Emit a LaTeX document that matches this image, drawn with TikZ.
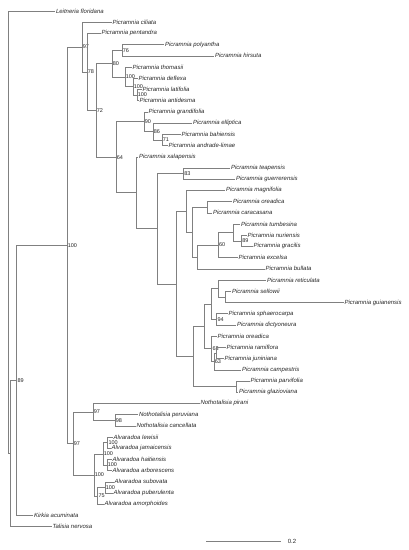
\documentclass[tikz,border=0pt]{standalone}
\usepackage{fontspec}
\setsansfont{Liberation Sans}
\usepackage{tikz}
\tikzset{
    branch/.style={draw=black!50, line width=0.45pt},
    taxon/.style={anchor=west, inner sep=0.8pt, text=black!85,
        font=\sffamily\itshape\fontsize{6}{7}\selectfont},
    support/.style={inner sep=0.6pt, text=black!85,
        font=\sffamily\fontsize{5.5}{6}\selectfont}}

\begin{document}
\begin{tikzpicture}[x=1pt, y=-11.21pt]
        \useasboundingbox (0,-0.981) rectangle (408,48.08);

                    \node[taxon] (leitneria) at (55,0) {Leitneria floridana};
                    \node[taxon] (ciliata) at (111.5,1) {Picramnia ciliata};
                    \node[taxon] (pentandra) at (100.5,2) {Picramnia pentandra};
                    \node[taxon] (polyantha) at (164,3) {Picramnia polyantha};
                    \node[taxon] (hirsuta) at (214,4) {Picramnia hirsuta};
                    \node[taxon] (thomasii) at (131.5,5) {Picramnia thomasii};
                    \node[taxon] (deflexa) at (137.5,6) {Picramnia deflexa};
                    \node[taxon] (latifolia) at (141.5,7) {Picramnia latifolia};
                    \node[taxon] (antidesma) at (138.5,8) {Picramnia antidesma};
                    \node[taxon] (grandifolia) at (147.5,9) {Picramnia grandifolia};
                    \node[taxon] (elliptica) at (192,10) {Picramnia elliptica};
                    \node[taxon] (bahiensis) at (180.5,11) {Picramnia bahiensis};
                    \node[taxon] (andrade) at (167.5,12) {Picramnia andrade-limae};
                    \node[taxon] (xalapensis) at (138,13) {Picramnia xalapensis};
                    \node[taxon] (teapensis) at (230,14) {Picramnia teapensis};
                    \node[taxon] (guerrerensis) at (235,15) {Picramnia guerrerensis};
                    \node[taxon] (magnifolia) at (225,16) {Picramnia magnifolia};
                    \node[taxon] (oreadica) at (232,17) {Picramnia oreadica};
                    \node[taxon] (caracasana) at (212,18) {Picramnia caracasana};
                    \node[taxon] (tumbesina) at (240,19) {Picramnia tumbesina};
                    \node[taxon] (nuriensis) at (246.5,20) {Picramnia nuriensis};
                    \node[taxon] (gracilis) at (252.5,21) {Picramnia gracilis};
                    \node[taxon] (excelsa) at (237.5,22) {Picramnia excelsa};
                    \node[taxon] (bullata) at (264.5,23) {Picramnia bullata};
                    \node[taxon] (reticulata) at (266,24) {Picramnia reticulata};
                    \node[taxon] (sellowii) at (231,25) {Picramnia sellowii};
                    \node[taxon] (guianensis) at (343.5,26) {Picramnia guianensis};
                    \node[taxon] (sphaerocarpa) at (227.5,27) {Picramnia sphaerocarpa};
                    \node[taxon] (dictyoneura) at (236,28) {Picramnia dictyoneura};
                    \node[taxon] (oreadicaB) at (216.5,29) {Picramnia oreadica};
                    \node[taxon] (ramiflora) at (225.5,30) {Picramnia ramiflora};
                    \node[taxon] (juniniana) at (223.5,31) {Picramnia juniniana};
                    \node[taxon] (campestris) at (241,32) {Picramnia campestris};
                    \node[taxon] (parvifolia) at (249.5,33) {Picramnia parvifolia};
                    \node[taxon] (glazioviana) at (238,34) {Picramnia glazioviana};
                    \node[taxon] (pirani) at (199.5,35) {Nothotalisia pirani};
                    \node[taxon] (peruviana) at (138,36) {Nothotalisia peruviana};
                    \node[taxon] (cancellata) at (135.5,37) {Nothotalisia cancellata};
                    \node[taxon] (lewisii) at (112.5,38) {Alvaradoa lewisii};
                    \node[taxon] (jamaicensis) at (110.5,39) {Alvaradoa jamaicensis};
                    \node[taxon] (haitiensis) at (111.5,40) {Alvaradoa haitiensis};
                    \node[taxon] (arborescens) at (111.5,41) {Alvaradoa arborescens};
                    \node[taxon] (subovata) at (113.5,42) {Alvaradoa subovata};
                    \node[taxon] (puberulenta) at (112.5,43) {Alvaradoa puberulenta};
                    \node[taxon] (amorphoides) at (103.5,44) {Alvaradoa amorphoides};
                    \node[taxon] (kirkia) at (33,45) {Kirkia acuminata};
                    \node[taxon] (talisia) at (51.5,46) {Talisia nervosa};

                    \coordinate (root) at (8.3,19.74);
                    \coordinate (nT) at (10.7,39.47);
                    \coordinate[label={[support]right:89}] (n89o) at (16.7,32.94);
                    \coordinate[label={[support]right:100}] (nC) at (67,20.889);
                    \coordinate[label={[support]right:97}] (n97) at (82,3.216);
                    \coordinate[label={[support]right:78}] (n78) at (87,5.43);
                    \coordinate[label={[support]right:72}] (n72) at (96,8.865);
                    \coordinate[label={[support]right:80}] (n80) at (112,4.6875);
                    \coordinate[label={[support]right:76}] (n76) at (122,3.5);
                    \coordinate[label={[support]right:100}] (nTho) at (125,5.875);
                    \coordinate[label={[support]right:100}] (nDef) at (133,6.75);
                    \coordinate[label={[support]right:100}] (nLat) at (137,7.5);
                    \coordinate[label={[support]right:64}] (n64) at (116,13.042);
                    \coordinate[label={[support]right:90}] (n90) at (144,9.875);
                    \coordinate[label={[support]right:86}] (n86) at (153,10.75);
                    \coordinate[label={[support]right:71}] (n71) at (162,11.5);
                    \coordinate (nXal) at (136,16.209);
                    \coordinate (nX) at (157,19.418);
                    \coordinate[label={[support]right:83}] (n83) at (183.5,14.5);
                    \coordinate (nY) at (176.7,24.336);
                    \coordinate (nZone) at (186.7,17.859);
                    \coordinate (nZtwo) at (192.5,19.71875);
                    \coordinate (nOre) at (207.3,17.5);
                    \coordinate (nBul) at (197.7,21.9375);
                    \coordinate[label={[support]right:60}] (n60) at (218.3,20.875);
                    \coordinate (nTum) at (233.3,19.75);
                    \coordinate[label={[support]right:89}] (n89) at (241.5,20.5);
                    \coordinate (nW) at (193.3,30.8125);
                    \coordinate (nV) at (204.5,28.125);
                    \coordinate (nRS) at (211,26.125);
                    \coordinate (nRet) at (218.3,24.75);
                    \coordinate (nSel) at (225,25.5);
                    \coordinate[label={[support]right:94}] (n94) at (216.7,27.5);
                    \coordinate[label={[support]right:63}] (n63a) at (211.7,30.125);
                    \coordinate[label={[support]right:63}] (n63b) at (214,31.25);
                    \coordinate (nRam) at (216.5,30.5);
                    \coordinate (nPar) at (236,33.5);
                    \coordinate[label={[support]right:97}] (nOut) at (73,38.5625);
                    \coordinate[label={[support]right:97}] (nNoth) at (93,35.75);
                    \coordinate[label={[support]right:98}] (n98) at (115,36.5);
                    \coordinate[label={[support]right:100}] (nAlv) at (94,41.375);
                    \coordinate[label={[support]right:100}] (nAtop) at (103,39.5);
                    \coordinate[label={[support]right:100}] (nLew) at (107.7,38.5);
                    \coordinate[label={[support]right:100}] (nHai) at (107,40.5);
                    \coordinate[label={[support]right:75}] (n75) at (97.7,43.25);
                    \coordinate[label={[support]right:100}] (nSub) at (105,42.5);

                    \draw[branch] (root) |- (leitneria) (root) |- (nT);
                    \draw[branch] (nT) |- (n89o) (nT) |- (talisia);
                    \draw[branch] (n89o) |- (nC) (n89o) |- (kirkia);
                    \draw[branch] (nC) |- (n97) (nC) |- (nOut);
                    \draw[branch] (n97) |- (ciliata) (n97) |- (n78);
                    \draw[branch] (n78) |- (pentandra) (n78) |- (n72);
                    \draw[branch] (n72) |- (n80) (n72) |- (n64);
                    \draw[branch] (n80) |- (n76) (n80) |- (nTho);
                    \draw[branch] (n76) |- (polyantha) (n76) |- (hirsuta);
                    \draw[branch] (nTho) |- (thomasii) (nTho) |- (nDef);
                    \draw[branch] (nDef) |- (deflexa) (nDef) |- (nLat);
                    \draw[branch] (nLat) |- (latifolia) (nLat) |- (antidesma);
                    \draw[branch] (n64) |- (n90) (n64) |- (nXal);
                    \draw[branch] (n90) |- (grandifolia) (n90) |- (n86);
                    \draw[branch] (n86) |- (elliptica) (n86) |- (n71);
                    \draw[branch] (n71) |- (bahiensis) (n71) |- (andrade);
                    \draw[branch] (nXal) |- (xalapensis) (nXal) |- (nX);
                    \draw[branch] (nX) |- (n83) (nX) |- (nY);
                    \draw[branch] (n83) |- (teapensis) (n83) |- (guerrerensis);
                    \draw[branch] (nY) |- (nZone) (nY) |- (nW);
                    \draw[branch] (nZone) |- (magnifolia) (nZone) |- (nZtwo);
                    \draw[branch] (nZtwo) |- (nOre) (nZtwo) |- (nBul);
                    \draw[branch] (nOre) |- (oreadica) (nOre) |- (caracasana);
                    \draw[branch] (nBul) |- (n60) (nBul) |- (bullata);
                    \draw[branch] (n60) |- (nTum) (n60) |- (excelsa);
                    \draw[branch] (nTum) |- (tumbesina) (nTum) |- (n89);
                    \draw[branch] (n89) |- (nuriensis) (n89) |- (gracilis);
                    \draw[branch] (nW) |- (nV) (nW) |- (nPar);
                    \draw[branch] (nV) |- (nRS) (nV) |- (n63a);
                    \draw[branch] (nRS) |- (nRet) (nRS) |- (n94);
                    \draw[branch] (nRet) |- (reticulata) (nRet) |- (nSel);
                    \draw[branch] (nSel) |- (sellowii) (nSel) |- (guianensis);
                    \draw[branch] (n94) |- (sphaerocarpa) (n94) |- (dictyoneura);
                    \draw[branch] (n63a) |- (oreadicaB) (n63a) |- (n63b);
                    \draw[branch] (n63b) |- (nRam) (n63b) |- (campestris);
                    \draw[branch] (nRam) |- (ramiflora) (nRam) |- (juniniana);
                    \draw[branch] (nPar) |- (parvifolia) (nPar) |- (glazioviana);
                    \draw[branch] (nOut) |- (nNoth) (nOut) |- (nAlv);
                    \draw[branch] (nNoth) |- (pirani) (nNoth) |- (n98);
                    \draw[branch] (n98) |- (peruviana) (n98) |- (cancellata);
                    \draw[branch] (nAlv) |- (nAtop) (nAlv) |- (n75);
                    \draw[branch] (nAtop) |- (nLew) (nAtop) |- (nHai);
                    \draw[branch] (nLew) |- (lewisii) (nLew) |- (jamaicensis);
                    \draw[branch] (nHai) |- (haitiensis) (nHai) |- (arborescens);
                    \draw[branch] (n75) |- (nSub) (n75) |- (amorphoides);
                    \draw[branch] (nSub) |- (subovata) (nSub) |- (puberulenta);

                    \coordinate (scaleL) at (206,47.28);
                    \coordinate (scaleR) at (281,47.28);
                    \draw[branch] (scaleL) -- (scaleR) node[support, anchor=west, xshift=6pt, font=\sffamily\fontsize{6}{7}\selectfont] (scalelabel) {0.2};

                \end{tikzpicture}
\end{document}
